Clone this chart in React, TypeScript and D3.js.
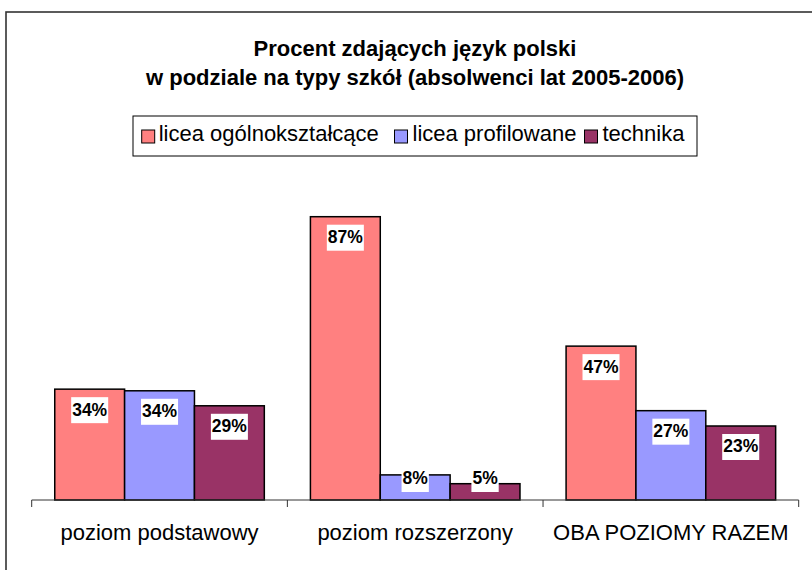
import React from "react";
import * as d3 from "d3";

const title = ["Procent zdających język polski", "w podziale na typy szkół (absolwenci lat 2005-2006)"];
const categories = ["poziom podstawowy", "poziom rozszerzony", "OBA POZIOMY RAZEM"];
const seriesNames = ["licea ogólnokształcące", "licea profilowane", "technika"];
const seriesColors = ["#FF8080", "#9999FF", "#993366"];
const liceaOgolne = [34.0, 86.9, 47.2];
const liceaProfilowane = [33.5, 7.7, 27.4];
const technika = [28.9, 5.0, 22.7];
const seriesValues = [liceaOgolne, liceaProfilowane, technika];

const W = 812;
const H = 570;
const FONT = "'Liberation Sans', Arial, Helvetica, sans-serif";

export default function App() {
  const x0 = d3.scaleBand<string>().domain(categories).range([31.7, 798.7]).padding(0);
  const x1 = d3
    .scaleBand<number>()
    .domain(d3.range(seriesNames.length))
    .range([0, x0.bandwidth()])
    .paddingInner(0)
    .paddingOuter(0.33);
  const y = d3.scaleLinear().domain([0, 100]).range([500, 174]);
  const base = y(0);

  const labelFs = 17.5;
  const boxH = 26;
  const labelWidth = (s: string) => {
    let w = 0;
    for (const ch of s) w += ch === "%" ? 0.889 : 0.556;
    return w * labelFs + 2;
  };

  const legendItems = [
    { sx: 141.7, tx: 158.7 },
    { sx: 394.5, tx: 412.5 },
    { sx: 584.5, tx: 602.5 },
  ];

  const ticks = [...categories.map((c) => x0(c) as number), x0.range()[1]];

  return (
    <svg
      width={W}
      height={H}
      style={{ position: "absolute", left: 0, top: 0, display: "block", background: "#fff" }}
      fontFamily={FONT}
    >
      <rect x={0} y={0} width={W} height={H} fill="#fff" />
      <rect x={6} y={12} width={830} height={600} fill="#fff" stroke="#333" strokeWidth={1.6} />

      {/* Title */}
      <text x={415} y={55.5} textAnchor="middle" fontWeight="bold" fontSize={22} fill="#000">
        {title[0]}
      </text>
      <text x={415} y={85} textAnchor="middle" fontWeight="bold" fontSize={22} fill="#000">
        {title[1]}
      </text>

      {/* Legend */}
      <rect x={133} y={116} width={564} height={40} fill="#fff" stroke="#000" strokeWidth={1} />
      {seriesNames.map((name, i) => (
        <g key={name}>
          <rect
            x={legendItems[i].sx}
            y={130}
            width={13}
            height={13}
            fill={seriesColors[i]}
            stroke="#000"
            strokeWidth={1}
          />
          <text x={legendItems[i].tx} y={141} fontSize={22} fill="#000">
            {name}
          </text>
        </g>
      ))}

      {/* Bars */}
      {categories.map((c, ci) => (
        <g key={c} transform={`translate(${x0(c)},0)`}>
          {seriesValues.map((vals, si) => {
            const v = vals[ci];
            const bx = x1(si) as number;
            const bw = x1.bandwidth();
            const top = y(v);
            return (
              <rect
                key={si}
                x={bx}
                y={top}
                width={bw}
                height={base - top}
                fill={seriesColors[si]}
                stroke="#000"
                strokeWidth={1.5}
              />
            );
          })}
          {seriesValues.map((vals, si) => {
            const v = vals[ci];
            const label = `${Math.round(v)}%`;
            const bx = x1(si) as number;
            const bw = x1.bandwidth();
            const top = y(v);
            const boxTop = Math.min(top + 8, base - 8 - boxH);
            const lw = labelWidth(label);
            const cx = bx + bw / 2;
            return (
              <g key={`l${si}`}>
                <rect x={cx - lw / 2} y={boxTop} width={lw} height={boxH} fill="#fff" />
                <text
                  x={cx}
                  y={boxTop + 18.4}
                  textAnchor="middle"
                  fontWeight="bold"
                  fontSize={labelFs}
                  fill="#000"
                >
                  {label}
                </text>
              </g>
            );
          })}
        </g>
      ))}

      {/* Axis */}
      <line x1={x0.range()[0]} x2={x0.range()[1]} y1={base} y2={base} stroke="#333" strokeWidth={1} />
      {ticks.map((t, i) => (
        <line key={i} x1={t} x2={t} y1={base} y2={base + 7} stroke="#333" strokeWidth={1} />
      ))}
      {categories.map((c) => (
        <text
          key={c}
          x={(x0(c) as number) + x0.bandwidth() / 2}
          y={540}
          textAnchor="middle"
          fontSize={22}
          fill="#000"
        >
          {c}
        </text>
      ))}
    </svg>
  );
}
